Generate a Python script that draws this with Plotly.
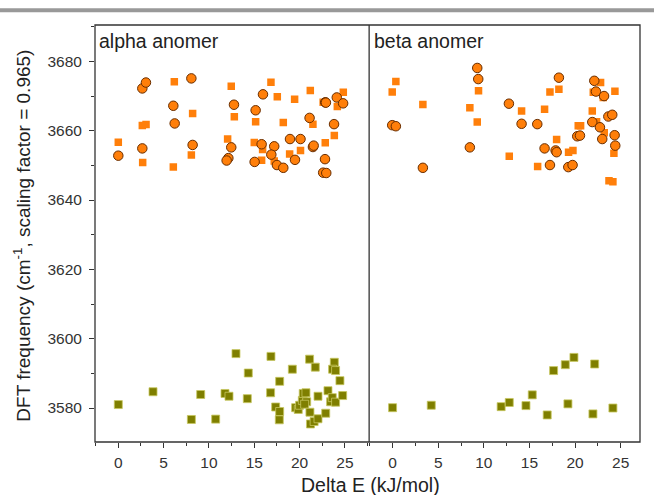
import plotly.graph_objects as go

# ---------------- data ----------------
alpha_circ_x = [0.0, 2.65, 2.65, 3.05, 6.07, 6.22, 8.06, 8.2, 12.76, 12.46, 12.14, 11.95,
                15.96, 15.15, 15.81, 15.04, 17.2, 16.88, 17.5, 18.2, 18.94, 20.1, 19.49,
                21.1, 21.47, 21.55, 22.83, 22.9, 22.8, 22.6, 22.94, 24.1, 24.8, 23.8]
alpha_circ_y = [3652.8, 3654.9, 3672.2, 3673.9, 3667.2, 3662.1, 3675.1, 3655.9, 3667.5, 3655.2,
                3652.1, 3651.4, 3670.5, 3665.9, 3656.1, 3651.0, 3655.5, 3653.1, 3650.1, 3649.3,
                3657.6, 3657.6, 3651.6, 3663.7, 3655.3, 3655.7, 3668.2, 3668.1, 3651.8, 3647.9,
                3647.8, 3669.6, 3667.9, 3661.9]

alpha_sq_x = [0.0, 2.69, 2.65, 3.06, 6.18, 6.07, 8.2, 8.06, 12.46, 12.8, 12.06, 15.15, 15.0,
              15.92, 15.81, 16.84, 17.54, 17.2, 18.2, 18.9, 19.45, 20.1, 21.18, 21.47, 22.6,
              22.83, 23.83, 24.16, 24.82]
alpha_sq_y = [3656.7, 3650.8, 3661.5, 3661.8, 3674.1, 3649.5, 3665.0, 3653.0, 3672.8, 3664.0,
              3657.6, 3662.6, 3656.6, 3654.6, 3651.5, 3674.0, 3669.8, 3651.3, 3662.4, 3653.3,
              3669.1, 3654.3, 3671.6, 3661.9, 3668.2, 3656.5, 3658.6, 3667.0, 3671.1]

alpha_low_x = [0.0, 3.83, 8.06, 9.09, 10.74, 11.77, 12.21, 12.98, 14.23, 14.34, 16.84, 16.8,
               17.36, 17.8, 17.8, 17.76, 19.2, 19.56, 19.85, 20.0, 20.3, 20.4, 20.7, 20.78,
               20.56, 21.1, 21.73, 21.14, 21.2, 21.6, 22.03, 22.03, 22.88, 23.13, 23.42, 23.6,
               23.97, 23.83, 23.64, 23.97, 24.45, 24.75]
alpha_low_y = [3581.0, 3584.7, 3576.7, 3583.9, 3576.8, 3584.2, 3583.4, 3595.7, 3582.7, 3590.1,
               3594.9, 3584.4, 3580.3, 3579.0, 3587.7, 3576.6, 3591.2, 3580.1, 3579.6, 3580.8,
               3582.2, 3584.2, 3584.4, 3581.8, 3581.1, 3594.1, 3591.8, 3578.8, 3575.4, 3576.1,
               3576.9, 3583.4, 3578.5, 3585.0, 3581.8, 3583.0, 3581.7, 3593.2, 3591.2, 3590.8,
               3587.9, 3583.6]

beta_circ_x = [-0.04, 0.36, 3.32, 9.28, 9.39, 8.47, 12.75, 14.14, 15.86, 16.66, 17.25, 17.87,
               17.98, 18.23, 19.26, 19.73, 20.24, 20.54, 21.89, 22.11, 22.29, 22.73, 22.98,
               23.18, 23.65, 24.08, 24.34, 24.41]
beta_circ_y = [3661.6, 3661.3, 3649.3, 3678.1, 3674.9, 3655.2, 3667.8, 3662.0, 3661.9, 3654.9,
               3650.1, 3654.3, 3653.8, 3675.3, 3649.5, 3650.1, 3658.4, 3658.6, 3662.5, 3674.4,
               3671.3, 3661.0, 3657.6, 3670.0, 3664.1, 3664.6, 3658.7, 3655.7]

beta_sq_x = [0.36, -0.04, 3.32, 8.47, 9.42, 9.28, 12.79, 14.14, 15.9, 16.66, 17.25, 18.23,
             17.98, 19.29, 19.77, 20.35, 20.61, 21.89, 22.36, 22.8, 23.09, 23.2, 24.37, 24.26,
             23.72, 24.15, 22.0]
beta_sq_y = [3674.2, 3671.2, 3667.6, 3666.6, 3671.5, 3662.5, 3652.6, 3665.7, 3649.7, 3666.2,
             3671.2, 3672.0, 3657.5, 3653.8, 3654.3, 3661.4, 3661.4, 3665.7, 3662.6, 3673.9,
             3669.6, 3659.4, 3671.4, 3653.5, 3645.6, 3645.3, 3671.1]

beta_low_x = [0.0, 4.24, 11.9, 12.79, 14.62, 15.31, 16.95, 17.65, 18.93, 19.88, 19.22, 22.15,
              21.96, 24.15]
beta_low_y = [3580.1, 3580.8, 3580.4, 3581.6, 3580.7, 3583.8, 3578.0, 3590.8, 3592.5, 3594.6,
              3581.2, 3592.7, 3578.3, 3580.0]

y_ticks = [3580, 3600, 3620, 3640, 3660, 3680]
x_ticks = [0, 5, 10, 15, 20, 25]

# ---------------- styles ----------------
ORANGE = "#FF7F0A"
CIRC_EDGE = "#6A2E00"
OLIVE = "#7F7F00"
OLIVE_EDGE = "#C8C860"
FONT = "Liberation Sans, Arial, sans-serif"
AX = "#333333"
TXT = "#222222"

sq_style = dict(symbol="square", size=7.5, color=ORANGE, line=dict(width=0))
circ_style = dict(symbol="circle", size=9.5, color=ORANGE, line=dict(width=1, color=CIRC_EDGE))
low_style = dict(symbol="square", size=8, color=OLIVE, line=dict(width=0.8, color=OLIVE_EDGE))

fig = go.Figure()
panels = [
    ("x", alpha_sq_x, alpha_sq_y, alpha_circ_x, alpha_circ_y, alpha_low_x, alpha_low_y),
    ("x2", beta_sq_x, beta_sq_y, beta_circ_x, beta_circ_y, beta_low_x, beta_low_y),
]
for xa, sx, sy, cx, cy, lx, ly in panels:
    fig.add_trace(go.Scatter(x=sx, y=sy, mode="markers", marker=sq_style, xaxis=xa, yaxis="y",
                             showlegend=False, hoverinfo="x+y"))
    fig.add_trace(go.Scatter(x=cx, y=cy, mode="markers", marker=circ_style, xaxis=xa, yaxis="y",
                             showlegend=False, hoverinfo="x+y"))
    fig.add_trace(go.Scatter(x=lx, y=ly, mode="markers", marker=low_style, xaxis=xa, yaxis="y",
                             showlegend=False, hoverinfo="x+y"))

D = 0.503
TICKFONT = dict(family=FONT, size=15.5, color="#333333")
xcommon = dict(tickmode="array", tickvals=x_ticks, ticktext=[str(v) for v in x_ticks],
               ticks="outside", ticklen=5, tickwidth=1, tickcolor=AX,
               minor=dict(dtick=2.5, tick0=0, ticks="outside", ticklen=3, tickcolor=AX),
               showgrid=False, zeroline=False, showline=False,
               ticklabelstandoff=1, tickfont=TICKFONT)

fig.update_layout(
    width=654, height=495,
    margin=dict(l=95, r=14, t=24.5, b=53.3, autoexpand=False),
    paper_bgcolor="white", plot_bgcolor="white",
    font=dict(family=FONT, color=TXT),
    xaxis=dict(domain=[0, D], range=[-2.57, 27.67], anchor="y", **xcommon),
    xaxis2=dict(domain=[D, 1], range=[-2.57, 27.12], anchor="y", **xcommon),
    yaxis=dict(range=[3570.2, 3690.5], tickmode="array", tickvals=y_ticks,
               ticktext=[str(v) for v in y_ticks],
               ticks="outside", ticklen=5, tickwidth=1, tickcolor=AX,
               minor=dict(dtick=10, tick0=3580, ticks="outside", ticklen=3, tickcolor=AX),
               showgrid=False, zeroline=False, showline=False,
               ticklabelstandoff=4, tickfont=TICKFONT),
    shapes=[
        dict(type="rect", xref="paper", yref="paper", x0=0, x1=1, y0=0, y1=1,
             line=dict(color=AX, width=1.3), layer="above"),
        dict(type="line", xref="paper", yref="paper", x0=D, x1=D, y0=0, y1=1,
             line=dict(color=AX, width=1.3), layer="above"),
        dict(type="rect", xref="paper", yref="paper", x0=-0.2, x1=1.1, y0=1.0307, y1=1.040,
             line=dict(width=0), fillcolor="#999999"),
    ],
    annotations=[
        dict(text="alpha anomer", xref="paper", yref="paper", x=0.003, y=0.962,
             xanchor="left", yanchor="middle", showarrow=False,
             font=dict(family=FONT, size=19.5, color=TXT)),
        dict(text="beta anomer", xref="paper", yref="paper", x=D + 0.005, y=0.962,
             xanchor="left", yanchor="middle", showarrow=False,
             font=dict(family=FONT, size=19.5, color=TXT)),
        dict(text="Delta E (kJ/mol)", xref="paper", yref="paper", x=0.506, y=-0.104,
             xanchor="center", yanchor="middle", showarrow=False,
             font=dict(family=FONT, size=19.5, color=TXT)),
        dict(text="DFT frequency (cm<sup>-1</sup>, scaling factor = 0.965)",
             xref="paper", yref="paper", x=-0.1345, y=0.494, textangle=-90,
             xanchor="center", yanchor="middle", showarrow=False,
             font=dict(family=FONT, size=19, color=TXT)),
    ],
)

fig.write_html("out.html", config={"displayModeBar": False},
               post_script="document.body.style.margin='0';")
